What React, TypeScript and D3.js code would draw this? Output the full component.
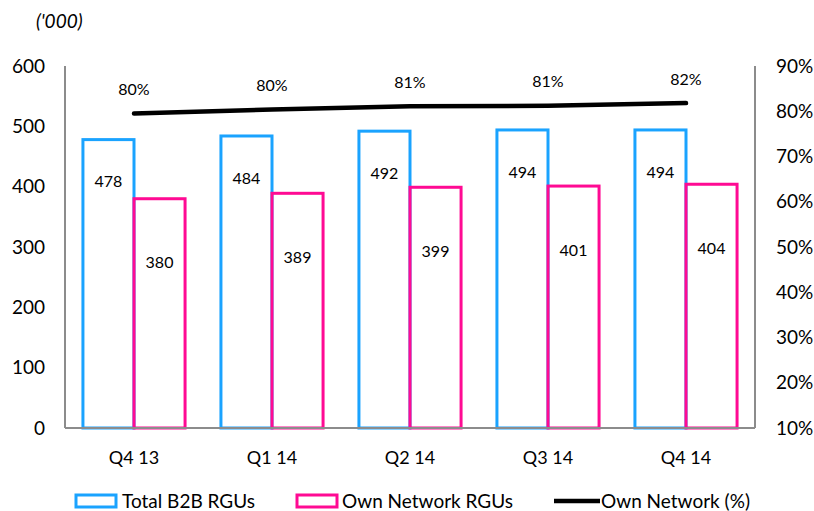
import React from "react";
import * as d3 from "d3";

// Quarterly B2B RGU figures ('000) and the share carried on the own network
const quarters = ["Q4 13", "Q1 14", "Q2 14", "Q3 14", "Q4 14"];
const totalB2B = [478, 484, 492, 494, 494];
const ownNetwork = [380, 389, 399, 401, 404];
const ownNetworkPct = [79.5, 80.4, 81.1, 81.2, 81.8];

const leftTicks = [0, 100, 200, 300, 400, 500, 600];
const rightTicks = [10, 20, 30, 40, 50, 60, 70, 80, 90];

const seriesNames = ["Total B2B RGUs", "Own Network RGUs", "Own Network (%)"];

const BLUE = "#1AA3FF";
const PINK = "#FF0A93";
const AXIS = "#8C8C8C";
const FONT = "Lato, 'Open Sans', sans-serif";

const W = 814;
const H = 511;
const plot = { left: 65, right: 755, top: 66, bottom: 428 };

export default function App() {
  const x = d3
    .scaleBand<string>()
    .domain(quarters)
    .range([plot.left, plot.right])
    .paddingInner(0.26)
    .paddingOuter(0.13);
  const sub = d3.scaleBand<number>().domain([0, 1]).range([0, x.bandwidth()]);
  const y = d3.scaleLinear().domain([0, 600]).range([plot.bottom, plot.top]);
  const yPct = d3.scaleLinear().domain([10, 90]).range([plot.bottom, plot.top]);

  const cx = (q: string) => (x(q) ?? 0) + x.bandwidth() / 2;

  const line = d3
    .line<number>()
    .x((_, i) => cx(quarters[i]))
    .y((d) => yPct(d));

  const series = [
    { values: totalB2B, color: BLUE, labelOffset: 42 },
    { values: ownNetwork, color: PINK, labelOffset: 64 },
  ];

  return (
    <svg
      width={W}
      height={H}
      style={{ position: "absolute", left: 0, top: 0, background: "#fff" }}
      fontFamily={FONT}
    >
      <text x={36} y={28} fontSize={19} fontStyle="italic" fill="#000">
        ('000)
      </text>

      {/* left axis */}
      <line x1={plot.left} x2={plot.left} y1={plot.top} y2={plot.bottom} stroke={AXIS} strokeWidth={2} />
      {leftTicks.map((t) => (
        <text key={t} x={45} y={y(t)} dy="0.35em" textAnchor="end" fontSize={19} fill="#000">
          {t}
        </text>
      ))}

      {/* right axis */}
      <line x1={plot.right} x2={plot.right} y1={plot.top} y2={plot.bottom} stroke={AXIS} strokeWidth={2} />
      {rightTicks.map((t) => (
        <text key={t} x={776} y={yPct(t)} dy="0.35em" textAnchor="start" fontSize={19} fill="#000">
          {t}%
        </text>
      ))}

      {/* bars */}
      {quarters.map((q, qi) =>
        series.map((s, si) => {
          const bx = (x(q) ?? 0) + (sub(si) ?? 0);
          const by = y(s.values[qi]);
          return (
            <g key={q + si}>
              <rect
                x={bx}
                y={by}
                width={sub.bandwidth()}
                height={y(0) - by}
                fill="none"
                stroke={s.color}
                strokeWidth={3}
              />
              <text
                x={bx + sub.bandwidth() / 2}
                y={by + s.labelOffset}
                dy="0.35em"
                textAnchor="middle"
                fontSize={16}
                fill="#000"
              >
                {s.values[qi]}
              </text>
            </g>
          );
        })
      )}

      {/* baseline */}
      <line x1={plot.left} x2={plot.right} y1={plot.bottom} y2={plot.bottom} stroke={AXIS} strokeWidth={2} />

      {/* category labels */}
      {quarters.map((q) => (
        <text key={q} x={cx(q)} y={458} dy="0.35em" textAnchor="middle" fontSize={18} fill="#000">
          {q}
        </text>
      ))}

      {/* own network share line */}
      <path d={line(ownNetworkPct) ?? ""} fill="none" stroke="#000" strokeWidth={4.5} strokeLinecap="round" />
      {ownNetworkPct.map((v, i) => (
        <text
          key={i}
          x={cx(quarters[i])}
          y={yPct(v) - 24}
          dy="0.35em"
          textAnchor="middle"
          fontSize={16}
          fill="#000"
        >
          {Math.round(v)}%
        </text>
      ))}

      {/* legend */}
      <g fontSize={19} fill="#000">
        <rect x={76} y={495} width={40} height={12} fill="none" stroke={BLUE} strokeWidth={3} />
        <text x={122} y={501} dy="0.35em">{seriesNames[0]}</text>
        <rect x={297} y={495} width={40} height={12} fill="none" stroke={PINK} strokeWidth={3} />
        <text x={342} y={501} dy="0.35em">{seriesNames[1]}</text>
        <line x1={554} x2={600} y1={501} y2={501} stroke="#000" strokeWidth={4.5} />
        <text x={601} y={501} dy="0.35em">{seriesNames[2]}</text>
      </g>
    </svg>
  );
}
